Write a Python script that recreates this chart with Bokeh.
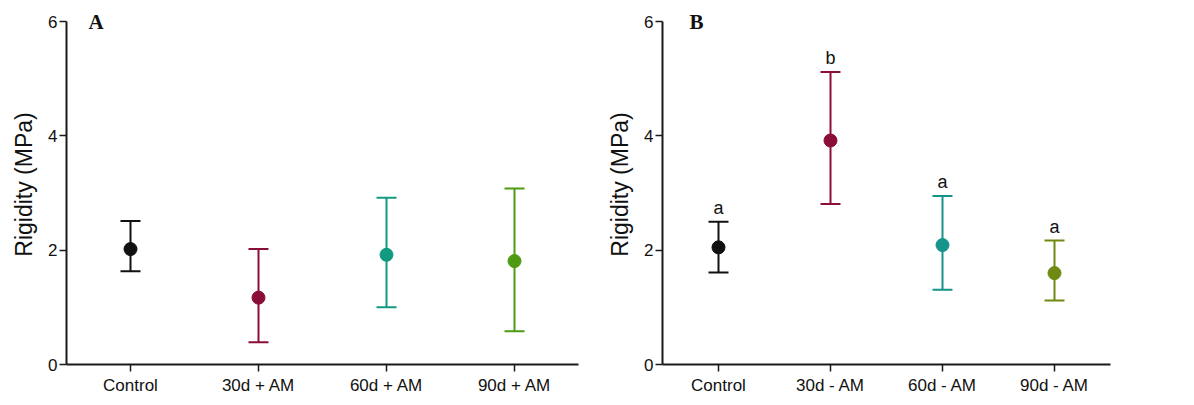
from bokeh.plotting import figure
from bokeh.models import ColumnDataSource, Whisker, TeeHead, FixedTicker, Label
from bokeh.layouts import row
from bokeh.embed import file_html
from bokeh.resources import INLINE
from bokeh.core.properties import value

cats_a = ["Control", "30d + AM", "60d + AM", "90d + AM"]
mean_a = [2.02, 1.17, 1.92, 1.81]
upper_a = [2.51, 2.02, 2.92, 3.08]
lower_a = [1.63, 0.39, 1.00, 0.58]
colors_a = ["#111111", "#8B0E3A", "#129A80", "#4E9A12"]

cats_b = ["Control", "30d - AM", "60d - AM", "90d - AM"]
mean_b = [2.05, 3.92, 2.09, 1.60]
upper_b = [2.50, 5.12, 2.95, 2.17]
lower_b = [1.61, 2.81, 1.31, 1.12]
colors_b = ["#111111", "#8B0E3A", "#16938A", "#6E8A12"]
letters_b = ["a", "b", "a", "a"]

yticks = [0, 2, 4, 6]
FONT = "Liberation Sans"


def make_panel(cats, mean, upper, lower, colors, panel_label, label_x, width, left, frame_w, letters=None):
    p = figure(x_range=cats, y_range=(0, 6.3), width=width, height=400,
               output_backend="svg", toolbar_location=None,
               min_border_left=left, min_border_right=width - left - frame_w,
               min_border_top=4, min_border_bottom=36)
    p.x_range.range_padding = 0
    p.outline_line_color = None
    p.xgrid.visible = False
    p.ygrid.visible = False
    p.background_fill_color = "white"
    p.border_fill_color = "white"

    p.yaxis.ticker = FixedTicker(ticks=yticks)
    p.yaxis.bounds = (0, 6)
    p.yaxis.minor_tick_line_color = None
    p.yaxis.axis_label = "Rigidity (MPa)"
    p.yaxis.axis_label_text_font = FONT
    p.yaxis.axis_label_text_font_style = "normal"
    p.yaxis.axis_label_text_font_size = "23px"
    p.yaxis.axis_label_text_color = "#111111"
    p.yaxis.axis_label_standoff = 8
    for ax in (p.xaxis, p.yaxis):
        ax.axis_line_color = "#1a1a1a"
        ax.axis_line_width = 2
        ax.major_tick_line_color = "#1a1a1a"
        ax.major_tick_line_width = 1.5
        ax.major_tick_out = 7
        ax.major_tick_in = 0
        ax.major_label_text_font = FONT
        ax.major_label_text_font_size = "17px"
        ax.major_label_text_color = "#111111"
    p.yaxis.major_label_standoff = 2
    p.xaxis.major_label_standoff = 4

    src = ColumnDataSource(dict(x=cats, mean=mean, upper=upper, lower=lower, color=colors))
    w = Whisker(base="x", upper="upper", lower="lower", source=src, dimension="height",
                line_color="color", line_width=2,
                upper_head=TeeHead(size=20, line_color="color", line_width=2),
                lower_head=TeeHead(size=20, line_color="color", line_width=2))
    p.add_layout(w)
    p.scatter("x", "mean", source=src, size=13, fill_color="color", line_color="color")

    if letters is not None:
        lsrc = ColumnDataSource(dict(x=cats, y=upper, t=letters))
        p.text("x", "y", text="t", source=lsrc, text_align="center", text_baseline="bottom",
               y_offset=-4, text_font=value(FONT), text_font_size="18px", text_color="#111111")

    p.add_layout(Label(x=label_x, y=6, x_units="screen", text=panel_label, text_font="Liberation Serif",
                       text_font_style="bold", text_font_size="21px", text_baseline="middle",
                       text_color="#111111"))
    return p


pa = make_panel(cats_a, mean_a, upper_a, lower_a, colors_a, "A", 22, 598, 66, 512)
pb = make_panel(cats_b, mean_b, upper_b, lower_b, colors_b, "B", 27, 524, 64, 448, letters_b)

layout = row(pa, pb, spacing=0)
open("out.html", "w").write(file_html(layout, INLINE))
